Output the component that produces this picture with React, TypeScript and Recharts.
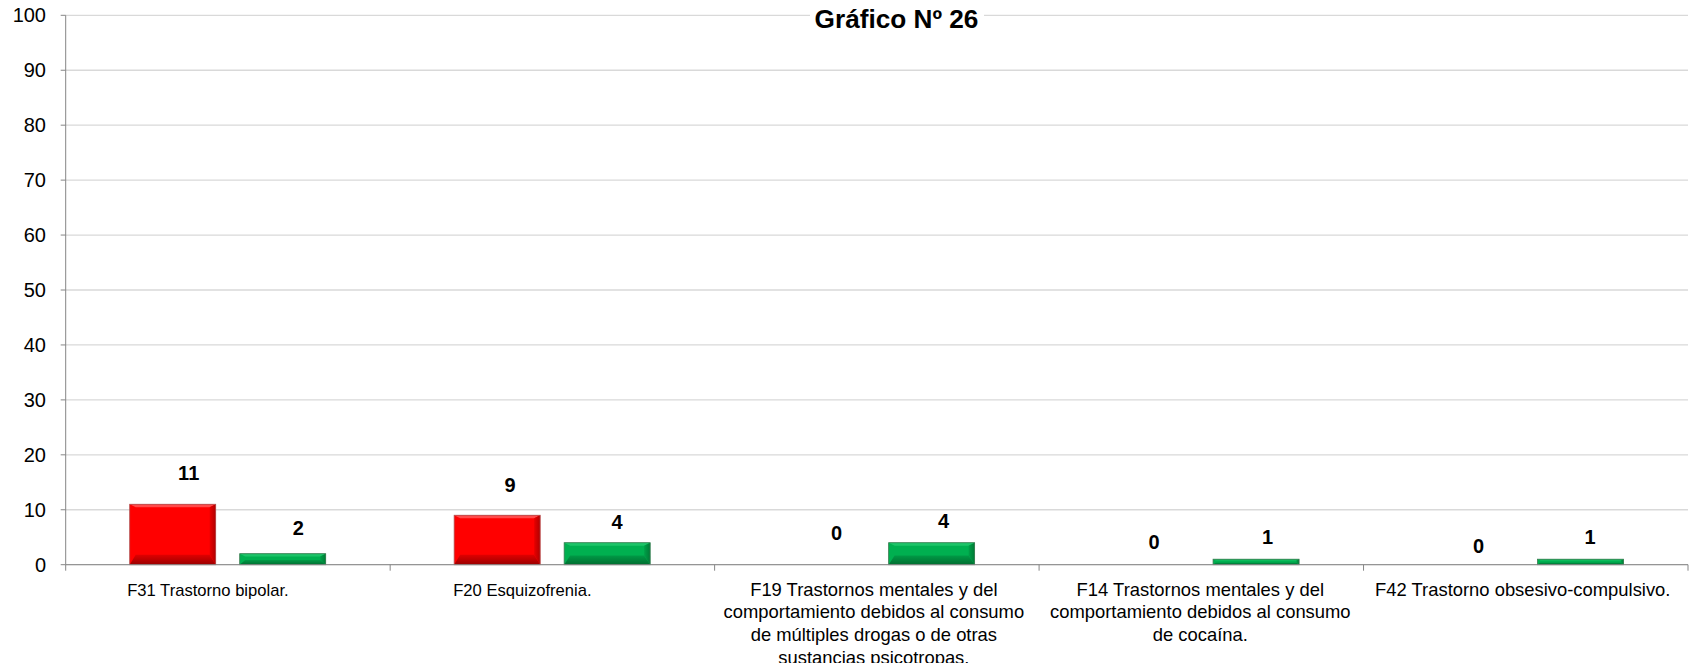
import React from 'react';
import { BarChart, Bar, XAxis, YAxis, CartesianGrid, LabelList } from 'recharts';

const categories = [
  'F31 Trastorno bipolar.',
  'F20 Esquizofrenia.',
  'F19 Trastornos mentales y del\ncomportamiento debidos al consumo\nde múltiples drogas o de otras\nsustancias psicotropas.',
  'F14 Trastornos mentales y del\ncomportamiento debidos al consumo\nde cocaína.',
  'F42 Trastorno obsesivo-compulsivo.',
];
const seriesRed = [11, 9, 0, 0, 0];
const seriesGreen = [2, 4, 4, 1, 1];
const yTicks = [0, 10, 20, 30, 40, 50, 60, 70, 80, 90, 100];
const titleText = 'Gráfico Nº 26';

// label nudges (style, relative to library-computed positions)
const redDx = [16, 13, 15, 8, 8];
const redDy = [-31, -30, -32, -23, -19];
const greenDx = [15.5, 10, 12, 11.5, 9.5];
const greenDy = [-26, -21, -22, -22.5, -22];
const catFont = [16.6, 16.6, 18.4, 18.4, 18.4];
const catDx = [-20, -30, -3, -1, -3];

const data = categories.map((name, i) => ({ name, red: seriesRed[i], green: seriesGreen[i] }));

const W = 1693;
const H = 663;
const PLOT_LEFT = 65.7;
const PLOT_RIGHT = 1688;
const PLOT_TOP = 15.3;
const PLOT_BOTTOM = 564.7;
const BAND = (PLOT_RIGHT - PLOT_LEFT) / categories.length;
const FONT = '"Liberation Sans", Arial, sans-serif';
const AXIS = '#868686';

const makeBevel = (key: string, main: string, light: string, edge: string) => (props: any) => {
  const { x, y, width, height } = props;
  if (!height || height <= 0.5) return null;
  const w = width;
  const h = height;
  const t = Math.min(3, h / 4);
  const b = Math.min(10, h * 0.42);
  const s = Math.min(6, w / 4, h / 2);
  return (
    <g>
      <rect x={x} y={y} width={w} height={h} fill={main} />
      <polygon points={`${x},${y} ${x + w},${y} ${x + w - s},${y + t} ${x + s},${y + t}`} fill={light} />
      <polygon
        points={`${x},${y + h} ${x + w},${y + h} ${x + w - s},${y + h - b} ${x + s},${y + h - b}`}
        fill={`url(#${key}-bottom)`}
      />
      <polygon
        points={`${x + w},${y} ${x + w},${y + h} ${x + w - s},${y + h - b} ${x + w - s},${y + t}`}
        fill={`url(#${key}-side)`}
      />
      <rect x={x} y={y} width={w} height={h} fill="none" stroke={edge} strokeWidth={0.8} />
    </g>
  );
};

const RedShape = makeBevel('red', '#ff0000', '#ff4a4a', '#b05050');
const GreenShape = makeBevel('green', '#00b050', '#1cc468', '#3a7a50');

const makeLabel = (dxs: number[], dys: number[]) => (props: any) => {
  const { x, y, width, value, index } = props;
  return (
    <text
      x={x + width / 2 + dxs[index]}
      y={y + dys[index]}
      textAnchor="middle"
      dominantBaseline="central"
      fontFamily={FONT}
      fontWeight="bold"
      fontSize={20}
      fill="#000"
    >
      {value}
    </text>
  );
};

const XTick = (props: any) => {
  const { x, y, payload, index } = props;
  const lines = String(payload.value).split('\n');
  const half = BAND / 2;
  const tx = x + catDx[index];
  return (
    <g>
      <line x1={x - half} x2={x - half} y1={y} y2={y + 6} stroke={AXIS} strokeWidth={1} />
      {index === categories.length - 1 && (
        <line x1={x + half} x2={x + half} y1={y} y2={y + 6} stroke={AXIS} strokeWidth={1} />
      )}
      <text x={tx} y={y + 31} textAnchor="middle" fontSize={catFont[index]} fontFamily={FONT} fill="#000">
        {lines.map((l, i) => (
          <tspan key={i} x={tx} dy={i === 0 ? 0 : 22.6}>
            {l}
          </tspan>
        ))}
      </text>
    </g>
  );
};

export default function App() {
  return (
    <div style={{ position: 'absolute', left: 0, top: 0, width: W, height: H, background: '#fff' }}>
      <svg width={0} height={0} style={{ position: 'absolute' }}>
        <defs>
          <linearGradient id="red-bottom" x1="0" y1="0" x2="0" y2="1">
            <stop offset="0" stopColor="#e00000" />
            <stop offset="1" stopColor="#9a0000" />
          </linearGradient>
          <linearGradient id="red-side" x1="0" y1="0" x2="1" y2="0">
            <stop offset="0" stopColor="#e80000" />
            <stop offset="1" stopColor="#b00000" />
          </linearGradient>
          <linearGradient id="green-bottom" x1="0" y1="0" x2="0" y2="1">
            <stop offset="0" stopColor="#009a46" />
            <stop offset="1" stopColor="#006e30" />
          </linearGradient>
          <linearGradient id="green-side" x1="0" y1="0" x2="1" y2="0">
            <stop offset="0" stopColor="#00a048" />
            <stop offset="1" stopColor="#007a36" />
          </linearGradient>
        </defs>
      </svg>
      <BarChart
        width={W}
        height={H}
        data={data}
        margin={{ top: PLOT_TOP, right: W - PLOT_RIGHT, left: 0, bottom: 0 }}
        barSize={86}
        barGap={24}
      >
        <CartesianGrid vertical={false} stroke="#d9d9d9" strokeWidth={1.3} />
        <XAxis
          dataKey="name"
          height={H - PLOT_BOTTOM}
          interval={0}
          tickLine={false}
          tickSize={0}
          tickMargin={0}
          axisLine={{ stroke: AXIS, strokeWidth: 1 }}
          tick={<XTick />}
        />
        <YAxis
          width={PLOT_LEFT}
          domain={[0, 100]}
          ticks={yTicks}
          interval={0}
          tickSize={5}
          tickMargin={14.7}
          axisLine={{ stroke: AXIS, strokeWidth: 1 }}
          tickLine={{ stroke: AXIS, strokeWidth: 1 }}
          tick={{ fill: '#000', fontSize: 20, fontFamily: FONT }}
        />
        <Bar dataKey="red" isAnimationActive={false} shape={RedShape}>
          <LabelList dataKey="red" content={makeLabel(redDx, redDy)} />
        </Bar>
        <Bar dataKey="green" isAnimationActive={false} shape={GreenShape}>
          <LabelList dataKey="green" content={makeLabel(greenDx, greenDy)} />
        </Bar>
      </BarChart>
      <svg
        width={W}
        height={H}
        style={{ position: 'absolute', left: 0, top: 0, pointerEvents: 'none' }}
      >
        <rect x={810} y={6} width={174} height={28} fill="#fff" />
        <text
          x={896.5}
          y={28.3}
          textAnchor="middle"
          fontFamily={FONT}
          fontWeight="bold"
          fontSize={26.2}
          fill="#000"
        >
          {titleText}
        </text>
      </svg>
    </div>
  );
}
